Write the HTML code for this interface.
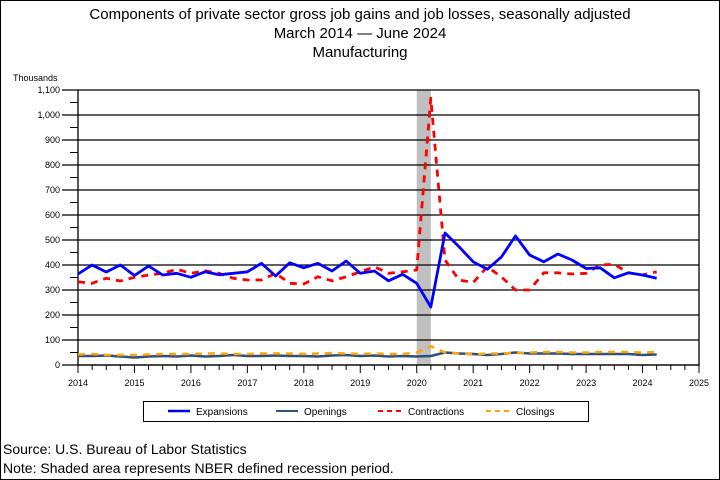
<!DOCTYPE html>
<html><head><meta charset="utf-8"><style>
body{margin:0;background:#fff}
svg{display:block;font-family:"Liberation Sans",Arial,sans-serif}
</style></head><body>
<svg id="c" width="720" height="480" viewBox="0 0 720 480">
<rect x="0.5" y="0.5" width="719" height="479" fill="#fff" stroke="#000"/>
<text x="360" y="19" text-anchor="middle" font-size="15">Components of private sector gross job gains and job losses, seasonally adjusted</text>
<text x="360" y="38" text-anchor="middle" font-size="15">March 2014  — June 2024</text>
<text x="360" y="57" text-anchor="middle" font-size="15">Manufacturing</text>
<text x="13" y="81" font-size="9">Thousands</text>
<g id="grid"></g>
<g id="series"></g>
<rect x="143.5" y="401.5" width="445" height="20" fill="#fff" stroke="#000"/>
<g><line x1="168" y1="411" x2="190" y2="411" stroke="#0000ff" stroke-width="2.5"/><text x="196" y="415" font-size="10">Expansions</text></g>
<g><line x1="276" y1="411" x2="298" y2="411" stroke="#2f4f7f" stroke-width="2"/><text x="304" y="415" font-size="10">Openings</text></g>
<g><line x1="378" y1="411" x2="402" y2="411" stroke="#ff0000" stroke-width="2" stroke-dasharray="5,4"/><text x="408" y="415" font-size="10">Contractions</text></g>
<g><line x1="486" y1="411" x2="510" y2="411" stroke="#ffa500" stroke-width="2" stroke-dasharray="5,4"/><text x="516" y="415" font-size="10">Closings</text></g>
<text x="3" y="454" font-size="14">Source: U.S. Bureau of Labor Statistics</text>
<text x="3" y="473" font-size="14">Note: Shaded area represents NBER defined recession period.</text>
</svg>
<script>
const yTicks=[0,100,200,300,400,500,600,700,800,900,1000,1100];
const yTickLabels=["0","100","200","300","400","500","600","700","800","900","1,000","1,100"];
const xYears=[2014,2015,2016,2017,2018,2019,2020,2021,2022,2023,2024,2025];
const startYear=2014;
const expansions=[364,400,372,400,358,396,360,367,351,373,361,367,373,407,356,409,389,407,376,416,367,376,337,363,327,232,528,473,413,383,432,516,440,413,444,420,386,389,349,369,360,347];
const contractions=[333,327,347,336,351,360,367,383,367,377,367,347,340,340,367,327,324,353,337,353,373,393,367,373,380,1067,420,340,330,393,353,300,300,369,369,364,367,400,403,369,360,373];
const openings=[36,36,38,34,30,34,36,34,38,34,36,40,36,36,38,36,36,34,38,40,36,38,34,36,34,36,50,46,44,40,44,50,46,46,46,44,44,44,44,44,40,42];
const closings=[42,44,40,40,40,42,44,44,44,46,46,44,44,46,46,46,44,46,48,46,44,46,44,44,50,75,50,46,42,46,46,48,50,52,52,50,50,52,52,52,50,52];
const recession=[2020.0,2020.25];
const NS="http://www.w3.org/2000/svg";
const X0=78,X1=699,Y0=365,Y1=90;
function xs(t){return X0+(t-2014)*(X1-X0)/11;}
function ys(v){return Y0-v*(Y0-Y1)/1100;}
function mk(tag,attrs,parent){const e=document.createElementNS(NS,tag);for(const k in attrs)e.setAttribute(k,attrs[k]);parent.appendChild(e);return e;}
const g=document.getElementById('grid'),s=document.getElementById('series');
const rec=mk('rect',{x:xs(recession[0]),y:Y1,width:xs(recession[1])-xs(recession[0]),height:Y0-Y1,fill:'#c0c0c0'},g);


yTicks.forEach((v,i)=>{
 const l=mk('line',{x1:62,x2:X1,y1:ys(v),y2:ys(v),stroke:'#000','stroke-width':1.3},g);
 
 
 const t=mk('text',{x:60,y:ys(v)+3,'text-anchor':'end','font-size':9},g);
 t.textContent=yTickLabels[i];
 
 
 if(i<yTicks.length-1){const m=mk('line',{x1:70,x2:X0,y1:ys(v+50),y2:ys(v+50),stroke:'#000'},g);
 
 }
});
const ax=mk('path',{d:`M${X0},${Y1}V${Y0}H${X1}V${Y1}`,fill:'none',stroke:'#000','stroke-width':1.3},g);


for(let q=0;q<=44;q++){const x=xs(2014+q/4);const tk=mk('line',{x1:x,x2:x,y1:Y0,y2:Y0+(q%4==0?8:5),stroke:'#000'},g);
 
 }
xYears.forEach(yr=>{const t=mk('text',{x:xs(yr),y:Y0+21,'text-anchor':'middle','font-size':9},g);
 t.textContent=yr;
 
 });
function line(data,color,w,dash,name){
 const d=data.map((v,i)=>(i?'L':'M')+xs(startYear+i/4).toFixed(1)+','+ys(v).toFixed(1)).join('');
 const p=mk('path',{d:d,fill:'none',stroke:color,'stroke-width':w,'stroke-linejoin':'round'},s);
 if(dash)p.setAttribute('stroke-dasharray',dash);
 
 
}
line(openings,'#2f4f7f',2.5,null,'openings-line');
line(closings,'#ffa500',2.5,'7,6','closings-line');
line(contractions,'#ff0000',2.8,'7,6','contractions-line');
line(expansions,'#0000ff',2.8,null,'expansions-line');
</script>
</body></html>
